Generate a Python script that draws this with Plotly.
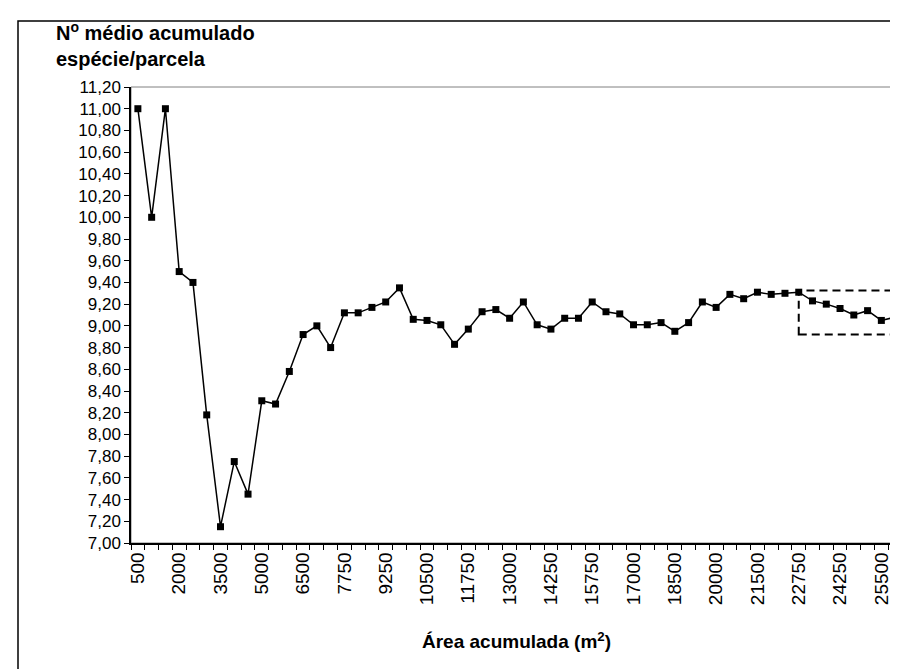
import plotly.graph_objects as go

# Cumulative area categories (m2); only every 3rd label is shown
area = [500, 1000, 1500, 2000, 2500, 3000, 3500, 4000, 4500, 5000,
        5500, 6000, 6500, 7000, 7250, 7750, 8250, 8750, 9250, 9750,
        10000, 10500, 11000, 11250, 11750, 12250, 12500, 13000, 13500, 13750,
        14250, 14750, 15250, 15750, 16250, 16500, 17000, 17500, 18000, 18500,
        19000, 19500, 20000, 20500, 21000, 21500, 22000, 22250, 22750, 23250,
        23750, 24250, 24750, 25000, 25500, 26000]

media_especies = [11.00, 10.00, 11.00, 9.50, 9.40, 8.18, 7.15, 7.75, 7.45, 8.31,
                  8.28, 8.58, 8.92, 9.00, 8.80, 9.12, 9.12, 9.17, 9.22, 9.35,
                  9.06, 9.05, 9.01, 8.83, 8.97, 9.13, 9.15, 9.07, 9.22, 9.01,
                  8.97, 9.07, 9.07, 9.22, 9.13, 9.11, 9.01, 9.01, 9.03, 8.95,
                  9.03, 9.22, 9.17, 9.29, 9.25, 9.31, 9.29, 9.30, 9.31, 9.23,
                  9.20, 9.16, 9.10, 9.14, 9.05, 9.08]

label_every = 3
categories = [str(a) for a in area]
tick_text = [c if i % label_every == 0 and i < len(categories) - 1 else "" for i, c in enumerate(categories)]

highlight_start = 48  # start of the stabilised tail that is boxed

W, H = 898, 669
L, R, T, B = 123, 4, 79, 134
pw, ph = W - L - R, H - T - B


def px(x):
    return (x - L) / pw


def py(y):
    return (H - B - y) / ph


fig = go.Figure()
fig.add_trace(go.Scatter(
    x=categories, y=media_especies, mode="lines+markers",
    line=dict(color="black", width=1.5),
    marker=dict(symbol="square", size=7, color="black"),
    showlegend=False, cliponaxis=False,
))

tail = media_especies[highlight_start:]
fig.add_shape(type="rect", xref="x", yref="y",
              x0=highlight_start, x1=len(categories) - 1,
              y0=min(tail) - 0.13, y1=max(tail) + 0.015,
              line=dict(color="black", width=2, dash="8px,5px"))

# plot-area border (grey top/right)
fig.add_shape(type="rect", xref="paper", yref="paper", x0=0, x1=1, y0=0, y1=1,
              line=dict(color="#808080", width=1), layer="below")
# chart-area border (black, cut off at right/bottom)
fig.add_shape(type="rect", xref="paper", yref="paper",
              x0=px(10), x1=px(920), y0=py(700), y1=py(13),
              line=dict(color="black", width=1.5), layer="below")

fig.add_annotation(xref="paper", yref="paper", x=px(46), y=py(9),
                   xanchor="left", yanchor="top", align="left", showarrow=False,
                   text="<b>N<sup>o</sup> médio acumulado<br>espécie/parcela</b>",
                   font=dict(family="Arial, Liberation Sans", size=20, color="black"))

fig.update_layout(
    width=W, height=H,
    margin=dict(l=L, r=R, t=T, b=B),
    paper_bgcolor="white", plot_bgcolor="white",
    separators=",.",
    font=dict(family="Arial, Liberation Sans", size=17, color="black"),
)
fig.update_xaxes(
    type="category", tickmode="array", tickvals=categories, ticktext=tick_text,
    tickson="boundaries", ticks="outside", ticklen=5, tickcolor="black",
    tickangle=-90, tickfont=dict(size=19), showgrid=False,
    showline=True, linecolor="black", linewidth=1.5,
    range=[-0.5, len(categories) - 0.5],
    title=dict(text="<b>Área acumulada (m<sup>2</sup>)</b>", font=dict(size=19), standoff=31),
)
fig.update_yaxes(
    range=[7, 11.2], dtick=0.2, tick0=7, tickformat=".2f",
    ticks="outside", ticklen=5, tickcolor="black", showgrid=False,
    showline=True, linecolor="black", linewidth=1.5, zeroline=False,
)

fig.write_html("out.html")
